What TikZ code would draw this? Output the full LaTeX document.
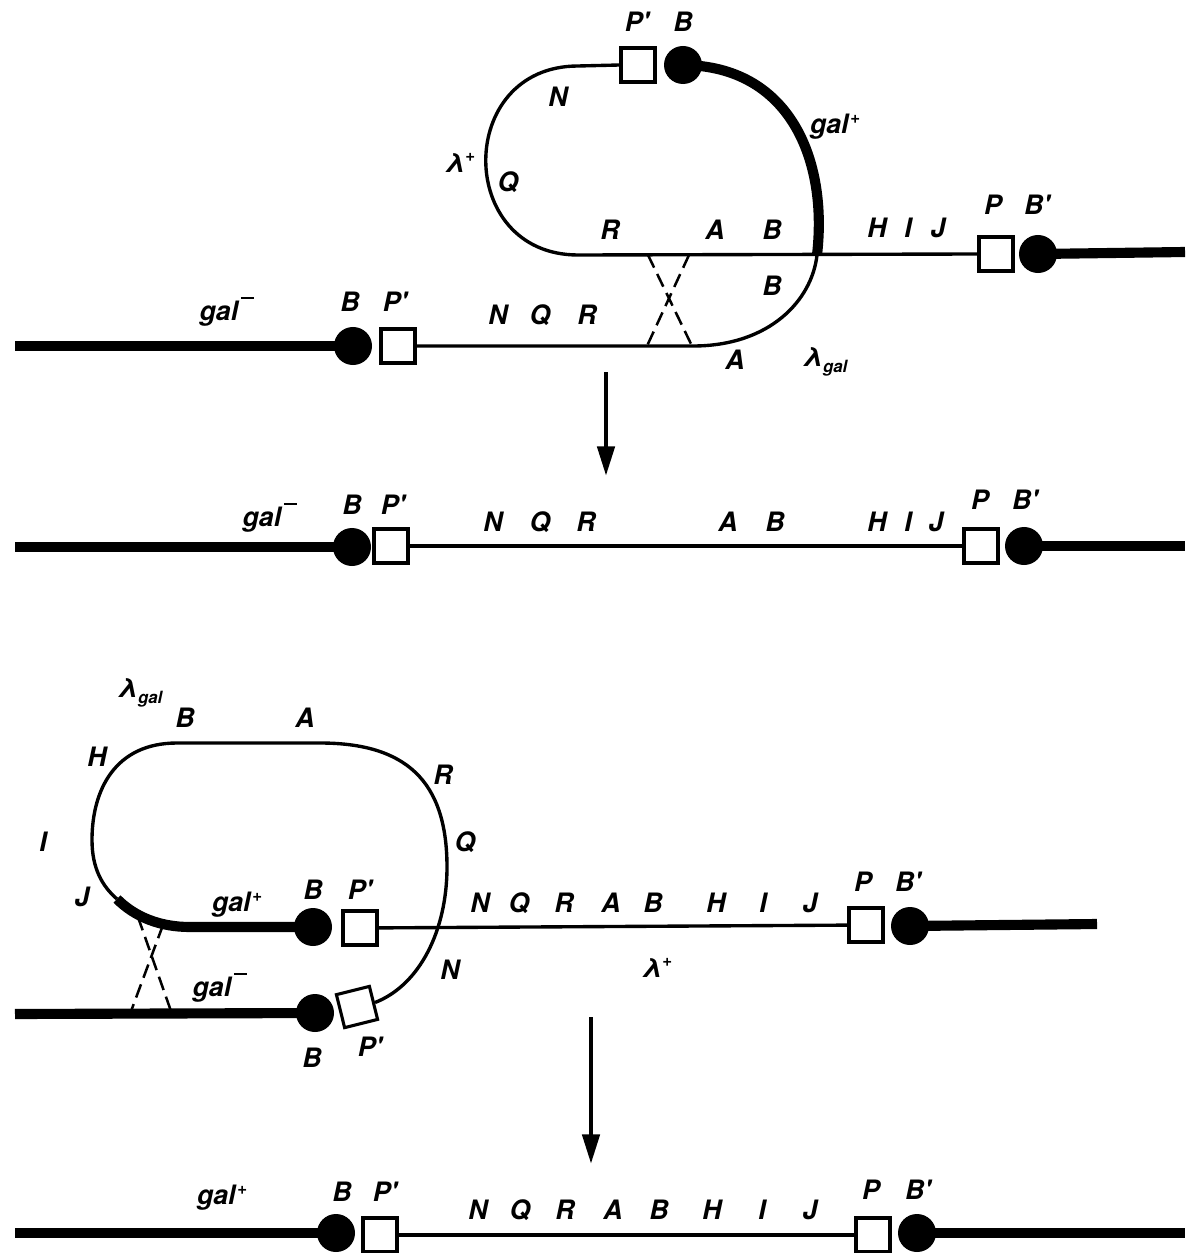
\documentclass[tikz,border=0pt]{standalone}
\usepackage{fontspec}
\newfontfamily\genefont{TeX Gyre Heros}
\usetikzlibrary{arrows.meta}

% small raised / lowered marks on the gene names
\newcommand{\upmark}[1]{\raisebox{0.75ex}{\fontsize{12}{12}\selectfont #1}}
\newcommand{\lamgal}{λ\raisebox{-0.45ex}{\fontsize{12}{12}\selectfont gal}}
\newcommand{\lamplus}{λ\upmark{+}}
\newcommand{\galplus}{gal\kern1pt\upmark{+}}
\newcommand{\galminus}{gal\kern2pt\rule[1.5ex]{0.5em}{1.3pt}}

\begin{document}
\begin{tikzpicture}[
  x=0.025cm, y=-0.025cm,
  dna/.style={line width=2.4pt},
  chrom/.style={line width=7.2pt},
  att/.style={circle, fill, inner sep=0pt, minimum size=0.95cm},
  prom/.style={draw, line width=2.2pt, fill=white, inner sep=0pt, minimum size=0.85cm},
  lab/.style={font=\genefont\fontsize{19}{21}\selectfont\bfseries\itshape, inner sep=0pt},
  xover/.style={line width=1.8pt, dash pattern=on 10pt off 5pt},
  arr/.style={line width=3.4pt, -{Triangle[length=21pt,width=12pt]}},
]
  \useasboundingbox (0,0) rectangle (1195,1253);

  % Integrated prophage, excision by the wrong pairing
  \coordinate (e1l) at (15,346);
  \node[att] (b1l) at (353,346) {};
  \node[prom] (p1l) at (398,346) {};
  \node[att] (b1t) at (683,65) {};
  \node[prom] (p1t) at (638,65) {};
  \node[prom] (p1r) at (996,254) {};
  \node[att] (b1r) at (1038,254) {};
  \coordinate (e1r) at (1185,252);
  \coordinate (c1) at (817,255);

  \draw[chrom] (e1l) -- (b1l.center);
  \draw[dna] (p1l.east) -- (693,346) .. controls (770,346) and (812,300) .. (c1);
  \draw[chrom] (c1) .. controls (828,160) and (790,66) .. (b1t.center);
  \draw[dna] (p1t.west) -- (578,66) .. controls (455,66) and (455,255) .. (578,255) -- (p1r.west);
  \draw[chrom] (b1r.center) -- (e1r);

  \coordinate (x1a) at (648,255);
  \coordinate (x1b) at (689,255);
  \coordinate (x1c) at (647,346);
  \coordinate (x1d) at (692,346);
  \draw[xover] (x1a) -- (x1d);
  \draw[xover] (x1b) -- (x1c);

  \node[lab] (l1pt) at (637,22) {P'};
  \node[lab] (l1bt) at (683,22) {B};
  \node[lab] (l1n) at (558,97) {N};
  \node[lab] (l1gal) at (835,127) {\galplus};
  \node[lab] (l1lam) at (460,163) {\lamplus};
  \node[lab] (l1q) at (508,182) {Q};
  \node[lab] (l1r) at (610,230) {R};
  \node[lab] (l1a) at (715,230) {A};
  \node[lab] (l1b) at (772,230) {B};
  \node[lab] (l1h) at (877,228) {H};
  \node[lab] (l1i) at (908,228) {I};
  \node[lab] (l1j) at (938,228) {J};
  \node[lab] (l1p) at (993,205) {P};
  \node[lab] (l1bp) at (1037,205) {B'};
  \node[lab] (l1b2) at (772,286) {B};
  \node[lab] (l1galm) at (227,312) {\galminus};
  \node[lab] (l1bl) at (350,302) {B};
  \node[lab] (l1pl) at (395,302) {P'};
  \node[lab] (l1n2) at (498,315) {N};
  \node[lab] (l1q2) at (540,315) {Q};
  \node[lab] (l1r2) at (587,315) {R};
  \node[lab] (l1a2) at (735,360) {A};
  \node[lab] (l1lg) at (825,362) {\lamgal};

  \coordinate (a1s) at (606,372);
  \coordinate (a1e) at (606,476);
  \draw[arr] (a1s) -- (a1e);

  % Deletion product
  \coordinate (e2l) at (15,547);
  \node[att] (b2l) at (352,547) {};
  \node[prom] (p2l) at (391,546) {};
  \node[prom] (p2r) at (981,546) {};
  \node[att] (b2r) at (1024,546) {};
  \coordinate (e2r) at (1185,546);

  \draw[chrom] (e2l) -- (b2l.center);
  \draw[dna] (p2l) -- (p2r);
  \draw[chrom] (b2r.center) -- (e2r);

  \node[lab] (l2galm) at (270,518) {\galminus};
  \node[lab] (l2b) at (352,505) {B};
  \node[lab] (l2p) at (393,505) {P'};
  \node[lab] (l2n) at (493,522) {N};
  \node[lab] (l2q) at (540,522) {Q};
  \node[lab] (l2r) at (586,522) {R};
  \node[lab] (l2a) at (728,522) {A};
  \node[lab] (l2b2) at (775,522) {B};
  \node[lab] (l2h) at (877,522) {H};
  \node[lab] (l2i) at (908,522) {I};
  \node[lab] (l2j) at (936,522) {J};
  \node[lab] (l2pp) at (980,500) {P};
  \node[lab] (l2bp) at (1025,500) {B'};

  % Lambda-gal lined up against the gal- site
  \coordinate (e3l) at (15,1014);
  \node[att] (b3l) at (315,1013) {};
  \node[prom, rotate=14] (p3l) at (357,1007) {};
  \node[att] (b3u) at (313,927) {};
  \node[prom] (p3u) at (360,928) {};
  \node[prom] (p3r) at (866,925) {};
  \node[att] (b3r) at (910,926) {};
  \coordinate (e3r) at (1097,924);
  \coordinate (j3) at (117,899);

  \draw[chrom] (e3l) -- (b3l.center);
  \draw[dna] (p3l.east) .. controls (420,985) and (447,930) .. (447,867)
    .. controls (447,780) and (405,743) .. (320,743) -- (177,743)
    .. controls (115,743) and (92,790) .. (92,840)
    .. controls (92,868) and (102,886) .. (j3);
  \draw[chrom] (j3) .. controls (135,917) and (160,927) .. (190,927) -- (b3u.center);
  \draw[dna] (p3u) -- (p3r);
  \draw[chrom] (b3r.center) -- (e3r);

  \coordinate (x3a) at (138,917);
  \coordinate (x3b) at (163,925);
  \coordinate (x3c) at (130,1014);
  \coordinate (x3d) at (172,1014);
  \draw[xover] (x3a) -- (x3d);
  \draw[xover] (x3b) -- (x3c);

  \node[lab] (l3lg) at (140,693) {\lamgal};
  \node[lab] (l3b) at (185,718) {B};
  \node[lab] (l3a) at (305,718) {A};
  \node[lab] (l3h) at (97,757) {H};
  \node[lab] (l3r) at (443,775) {R};
  \node[lab] (l3i) at (43,842) {I};
  \node[lab] (l3q) at (465,842) {Q};
  \node[lab] (l3j) at (82,897) {J};
  \node[lab] (l3gal) at (237,905) {\galplus};
  \node[lab] (l3bu) at (313,890) {B};
  \node[lab] (l3pu) at (360,890) {P'};
  \node[lab] (l3n) at (480,903) {N};
  \node[lab] (l3q2) at (519,903) {Q};
  \node[lab] (l3r2) at (564,903) {R};
  \node[lab] (l3a2) at (611,903) {A};
  \node[lab] (l3b2) at (653,903) {B};
  \node[lab] (l3h2) at (716,903) {H};
  \node[lab] (l3i2) at (763,903) {I};
  \node[lab] (l3j2) at (810,903) {J};
  \node[lab] (l3p) at (863,882) {P};
  \node[lab] (l3bp) at (908,882) {B'};
  \node[lab] (l3n2) at (450,970) {N};
  \node[lab] (l3lam) at (657,968) {\lamplus};
  \node[lab] (l3galm) at (220,988) {\galminus};
  \node[lab] (l3bl) at (312,1058) {B};
  \node[lab] (l3pl) at (370,1047) {P'};

  \coordinate (a2s) at (591,1017);
  \coordinate (a2e) at (591,1164);
  \draw[arr] (a2s) -- (a2e);

  % Recombinant: gal+ with the prophage inserted
  \coordinate (e4l) at (15,1233);
  \node[att] (b4l) at (336,1233) {};
  \node[prom] (p4l) at (380,1235) {};
  \node[prom] (p4r) at (873,1235) {};
  \node[att] (b4r) at (917,1233) {};
  \coordinate (e4r) at (1185,1233);

  \draw[chrom] (e4l) -- (b4l.center);
  \draw[dna] (p4l) -- (p4r);
  \draw[chrom] (b4r.center) -- (e4r);

  \node[lab] (l4gal) at (222,1198) {\galplus};
  \node[lab] (l4b) at (342,1192) {B};
  \node[lab] (l4p) at (385,1192) {P'};
  \node[lab] (l4n) at (478,1210) {N};
  \node[lab] (l4q) at (520,1210) {Q};
  \node[lab] (l4r) at (565,1210) {R};
  \node[lab] (l4a) at (613,1210) {A};
  \node[lab] (l4b2) at (659,1210) {B};
  \node[lab] (l4h) at (712,1210) {H};
  \node[lab] (l4i) at (762,1210) {I};
  \node[lab] (l4j) at (810,1210) {J};
  \node[lab] (l4pp) at (871,1190) {P};
  \node[lab] (l4bp) at (918,1190) {B'};
\end{tikzpicture}
\end{document}
